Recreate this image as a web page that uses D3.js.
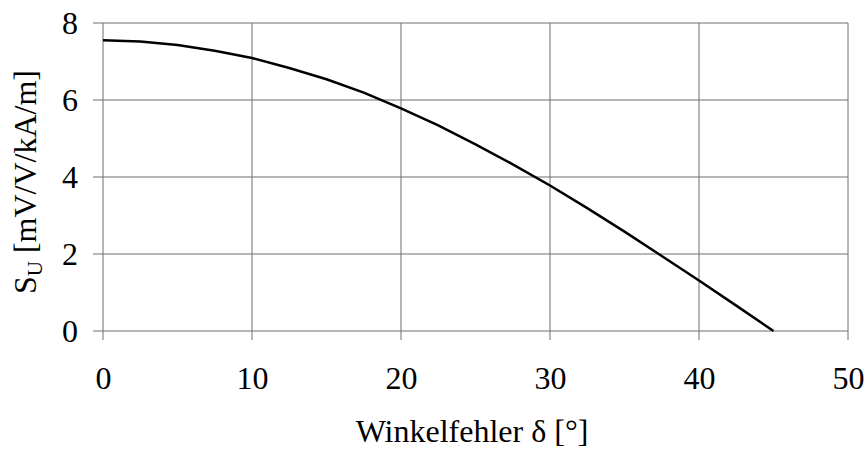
<!DOCTYPE html>
<html>
<head>
<meta charset="utf-8">
<script src="https://cdn.jsdelivr.net/npm/d3@7"></script>
<style>
  body { margin: 0; background: #fff; }
  svg text { font-family: "Liberation Serif", "Times New Roman", serif; fill: #000; }
</style>
</head>
<body>
<div id="main"></div>
<script>
const delta = [0, 2.5, 5, 7.5, 10, 12.5, 15, 17.5, 20, 22.5, 25, 27.5, 30, 32.5, 35, 37.5, 40, 42.5, 45];
const su = [7.55, 7.52, 7.43, 7.28, 7.09, 6.83, 6.54, 6.19, 5.78, 5.34, 4.85, 4.33, 3.78, 3.19, 2.58, 1.95, 1.31, 0.66, 0];
const xTicks = [0, 10, 20, 30, 40, 50];
const yTicks = [0, 2, 4, 6, 8];

const width = 866;
const height = 450;
const padL = 103, padR = 848, padT = 23, padB = 331;
const fs = 32;

const x = d3.scaleLinear().domain([0, 50]).range([padL, padR]);
const y = d3.scaleLinear().domain([0, 8]).range([padB, padT]);

const svg = d3.select("#main").append("svg").attr("width", width).attr("height", height);

// grid
svg.append("g")
  .selectAll("line")
  .data(xTicks)
  .enter()
  .append("line")
  .attr("x1", (d) => x(d)).attr("x2", (d) => x(d))
  .attr("y1", padT).attr("y2", padB + 9)
  .attr("stroke", "#6e6e6e").attr("stroke-width", 1);

svg.append("g")
  .selectAll("line")
  .data(yTicks)
  .enter()
  .append("line")
  .attr("x1", padL - 10).attr("x2", padR)
  .attr("y1", (d) => y(d)).attr("y2", (d) => y(d))
  .attr("stroke", "#6e6e6e").attr("stroke-width", 1);

// axes labels via d3 axes, lines hidden
const xAxis = svg.append("g")
  .attr("transform", `translate(0, ${padB})`)
  .call(d3.axisBottom(x).tickValues(xTicks).tickSize(0).tickPadding(35));
const yAxis = svg.append("g")
  .attr("transform", `translate(${padL}, 0)`)
  .call(d3.axisLeft(y).tickValues(yTicks).tickSize(0).tickPadding(25));
[xAxis, yAxis].forEach((a) => {
  a.select(".domain").remove();
  a.attr("font-size", fs).attr("font-family", "Liberation Serif, serif");
  a.selectAll("text").attr("fill", "#000");
});

// curve
const line = d3.line().x((d, i) => x(delta[i])).y((d) => y(d));
svg.append("path")
  .datum(su)
  .attr("d", line)
  .attr("fill", "none")
  .attr("stroke", "#000")
  .attr("stroke-width", 2.5);

// titles
svg.append("text")
  .attr("x", 472)
  .attr("y", 442)
  .attr("text-anchor", "middle")
  .attr("font-size", fs)
  .text("Winkelfehler δ [°]");

const yt = svg.append("text")
  .attr("transform", `translate(36, 182) rotate(-90)`)
  .attr("text-anchor", "middle")
  .attr("font-size", fs);
yt.append("tspan").text("S");
yt.append("tspan").attr("dy", 6).attr("font-size", 21).text("U");
yt.append("tspan").attr("dy", -6).text(" [mV/V/kA/m]");
</script>
</body>
</html>
